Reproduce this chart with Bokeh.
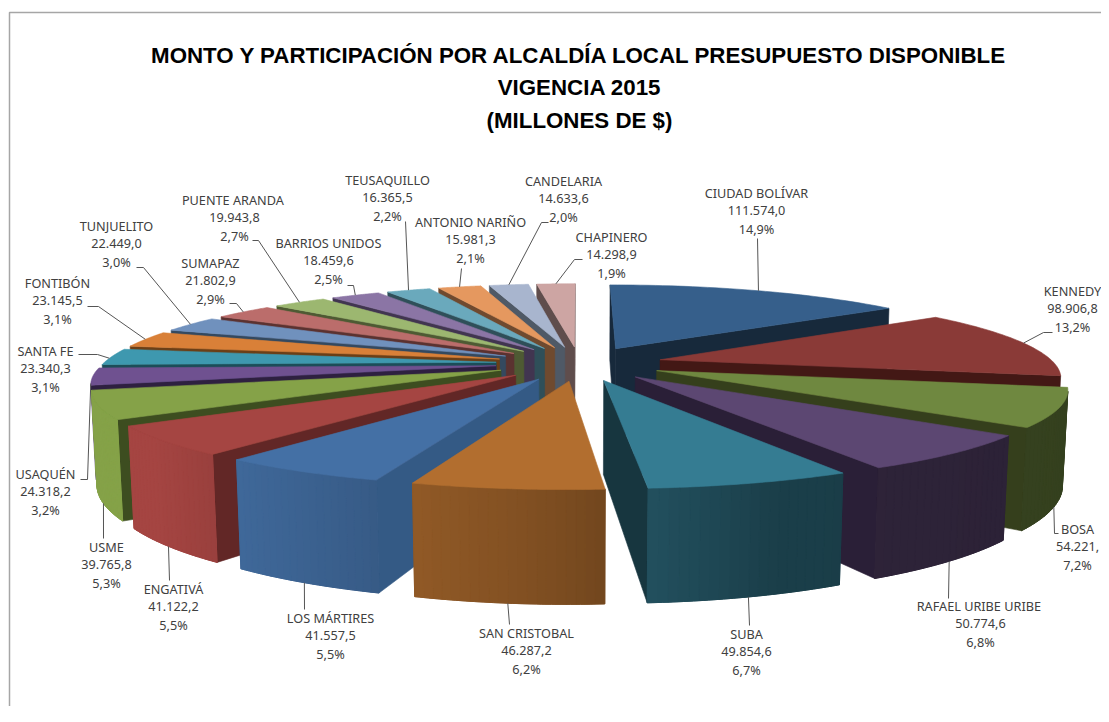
import numpy as np
from bokeh.plotting import figure
from bokeh.models import Range1d, ColumnDataSource
from bokeh.core.properties import value
from bokeh.embed import file_html
from bokeh.resources import INLINE

# ---------- data ----------
names = ["CIUDAD BOLÍVAR","KENNEDY","BOSA","RAFAEL URIBE  URIBE","SUBA","SAN CRISTOBAL","LOS MÁRTIRES","ENGATIVÁ","USME","USAQUÉN","SANTA FE","FONTIBÓN","TUNJUELITO","SUMAPAZ","PUENTE  ARANDA","BARRIOS UNIDOS","TEUSAQUILLO","ANTONIO NARIÑO","CANDELARIA","CHAPINERO"]
amounts = [111574.0,98906.8,54221.0,50774.6,49854.6,46287.2,41557.5,41122.2,39765.8,24318.2,23340.3,23145.5,22449.0,21802.9,19943.8,18459.6,16365.5,15981.3,14633.6,14298.9]
amount_labels = ["111.574,0","98.906,8","54.221,","50.774,6","49.854,6","46.287,2","41.557,5","41.122,2","39.765,8","24.318,2","23.340,3","23.145,5","22.449,0","21.802,9","19.943,8","18.459,6","16.365,5","15.981,3","14.633,6","14.298,9"]
pct_labels = ["14,9%","13,2%","7,2%","6,8%","6,7%","6,2%","5,5%","5,5%","5,3%","3,2%","3,1%","3,1%","3,0%","2,9%","2,7%","2,5%","2,2%","2,1%","2,0%","1,9%"]
title_lines = ["MONTO Y PARTICIPACIÓN POR ALCALDÍA LOCAL PRESUPUESTO DISPONIBLE","VIGENCIA 2015","(MILLONES DE $)"]

# ---------- styles ----------
top_colors = ["#365F8B","#8A3A37","#6F8840","#5C4772","#357C92","#B26E2F","#4470A5","#A54542","#85A248","#6F5190","#3E98AF","#D98038","#7091BD","#BB6D6B","#9CB770","#8B75A5","#6AA9BC","#E5985F","#A8B5CE","#CDA5A3"]
wall_colors = ["#17293B","#431815","#353F1C","#2A1F37","#17363F","#6E4420","#345A85","#622726","#3D4D20","#2E2040","#1C4D58","#6B3F17","#34495F","#5B3230","#4E5A33","#413550","#2F4F59","#6F4A2F","#4F5966","#5F4D4C"]
LEADER = "#555555"
TEXT = "#404040"

# camera of the 3-D pie: plane (u, v, w) -> chart pixels
CAM = np.array([392.778, 107.917, 6.0606, 578.744,
                -0.46793, -13.0565, 95.2597, 362.969,
                -0.00121410, 0.186237, 0.0105022, 1.0])
EXPLODE = 0.2123
START = -0.000378

def project(u, v, w):
    u, v = np.asarray(u, float), np.asarray(v, float)
    d = CAM[8]*u + CAM[9]*v + CAM[10]*w + CAM[11]
    return ((CAM[0]*u + CAM[1]*v + CAM[2]*w + CAM[3]) / d,
            (CAM[4]*u + CAM[5]*v + CAM[6]*w + CAM[7]) / d)

def shade(col, f):
    rgb = [int(col[i:i+2], 16) for i in (1, 3, 5)]
    return "#%02x%02x%02x" % tuple(int(round(c*f)) for c in rgb)

def area(x, y):
    return np.sum(x*np.roll(y, -1) - np.roll(x, -1)*y)

# rim brightness against the angle clockwise from 12 o'clock (degrees)
RIM_DEG = [0, 110, 160, 185, 207, 230, 360]
RIM_F = [.47, .47, .50, .73, .87, 1.0, 1.0]

edges = np.r_[0, np.cumsum(amounts)] / np.sum(amounts) * 2*np.pi + START
mids = (edges[:-1] + edges[1:]) / 2
order = np.argsort(-np.cos(mids))

xs, ys, cols, widths = [], [], [], []
def add(x, y, c, w=0.6):
    xs.append(list(x)); ys.append(list(y)); cols.append(c); widths.append(w)

for i in order:
    a0, a1, m = edges[i], edges[i+1], mids[i]
    ou, ov = EXPLODE*np.sin(m), EXPLODE*np.cos(m)
    t = np.linspace(a0, a1, 41)
    ru, rv = ou + np.sin(t), ov + np.cos(t)
    # radial walls
    for ang, sgn in ((a0, 1), (a1, -1)):
        eu, ev = ou + np.sin(ang), ov + np.cos(ang)
        X0, Y0 = project([ou, eu], [ov, ev], 0); X1, Y1 = project([eu, ou], [ev, ov], 1)
        X = np.r_[X0, X1]; Y = np.r_[Y0, Y1]
        if sgn*area(X, Y) < 0:
            add(X, Y, wall_colors[i])
    # rim in shaded bands, over one solid base so the seams do not show
    bands = []
    for k in range(0, 40, 2):
        su, sv = ru[k:k+3], rv[k:k+3]
        X0, Y0 = project(su, sv, 0); X1, Y1 = project(su[::-1], sv[::-1], 1)
        X = np.r_[X0, X1]; Y = np.r_[Y0, Y1]
        if area(X, Y) < 0:
            deg = np.degrees((t[k] + t[k+2]) / 2) % 360
            bands.append((k, X, Y, shade(top_colors[i], np.interp(deg, RIM_DEG, RIM_F))))
    if bands:
        k0, k1 = bands[0][0], bands[-1][0] + 3
        su, sv = ru[k0:k1], rv[k0:k1]
        X0, Y0 = project(su, sv, 0); X1, Y1 = project(su[::-1], sv[::-1], 1)
        add(np.r_[X0, X1], np.r_[Y0, Y1], bands[len(bands)//2][3])
        for _, X, Y, c in bands:
            add(X, Y, c, 1.0)
    # top
    X, Y = project(np.r_[ou, ru], np.r_[ov, rv], 0)
    add(X, Y, top_colors[i])

# ---------- layout of labels ----------
label_cx = [756,1072,1077,980,746,526,330,173,106,45,45,57,116,210,234,328,387,470,563,611]
label_cy = [192,290,528,605,633,632,617,588,546,473,350,282,225,262,199,242,179,221,180,236]
LINE = 18.2
elbows = [[(757,238)],[(1052,332),(1043,332)],[(1058,533),(1054,533)],[(948,598)],[(749,625)],[(509,624)],[(304,609)],[(169,580)],[(103,538)],[(80,479),(87,479)],[(78,354),(97,354)],[(87,306),(98,306)],[(136,267),(143,267)],[(229,303),(236,303)],[(252,240),(258,240)],[(347,285),(353,285)],[(405,221)],[(461,268)],[(548,222),(541,222)],[(582,259),(574,259)]]
leader_w = [0,0,1,1,1,1,1,1,1,0,0,0,0,0,0,0,0,0,0,0]
leader_t = [.5,.5,.5,.5,.5,.5,.5,.5,.5,.1,.4,.5,.5,.5,.5,.5,.5,.5,.5,.5]

W, H = 1101, 706
p = figure(width=W, height=H, x_range=Range1d(0, W), y_range=Range1d(H, 0),
           output_backend="svg", toolbar_location=None, min_border=0,
           background_fill_color="white", border_fill_color="white", outline_line_color=None)
p.axis.visible = False
p.grid.visible = False

# frame
p.line([9, 9, W], [H, 12, 12], line_color="#A6A6A6", line_width=1.5)

p.patches(xs="x", ys="y", source=ColumnDataSource(dict(x=xs, y=ys, c=cols, w=widths)),
          fill_color="c", line_color="c", line_width="w", fill_alpha=1, line_alpha=1)

for i in range(len(names)):
    a = edges[i] + leader_t[i]*(edges[i+1]-edges[i])
    ex, ey = project([EXPLODE*np.sin(mids[i]) + np.sin(a)], [EXPLODE*np.cos(mids[i]) + np.cos(a)], leader_w[i])
    lx = [e[0] for e in elbows[i]] + [ex[0]]
    ly = [e[1] for e in elbows[i]] + [ey[0]]
    p.line(lx, ly, line_color=LEADER, line_width=1)

tx, ty, tt = [], [], []
for i in range(len(names)):
    for j, s in enumerate((names[i], amount_labels[i], pct_labels[i])):
        tx.append(label_cx[i]); ty.append(label_cy[i] + j*LINE); tt.append(s)
p.text(x="x", y="y", text="t", source=ColumnDataSource(dict(x=tx, y=ty, t=tt)),
       text_font=value("Noto Sans"), text_font_size="12.7px", text_color=TEXT,
       text_align="center", text_baseline="middle")

p.text(x=[579]*3, y=[55, 87, 120], text=title_lines, text_font=value("Liberation Sans"),
       text_font_style="bold", text_font_size="22.3px", text_color="#000000",
       text_align="center", text_baseline="middle")

open("out.html", "w").write(file_html(p, INLINE))
